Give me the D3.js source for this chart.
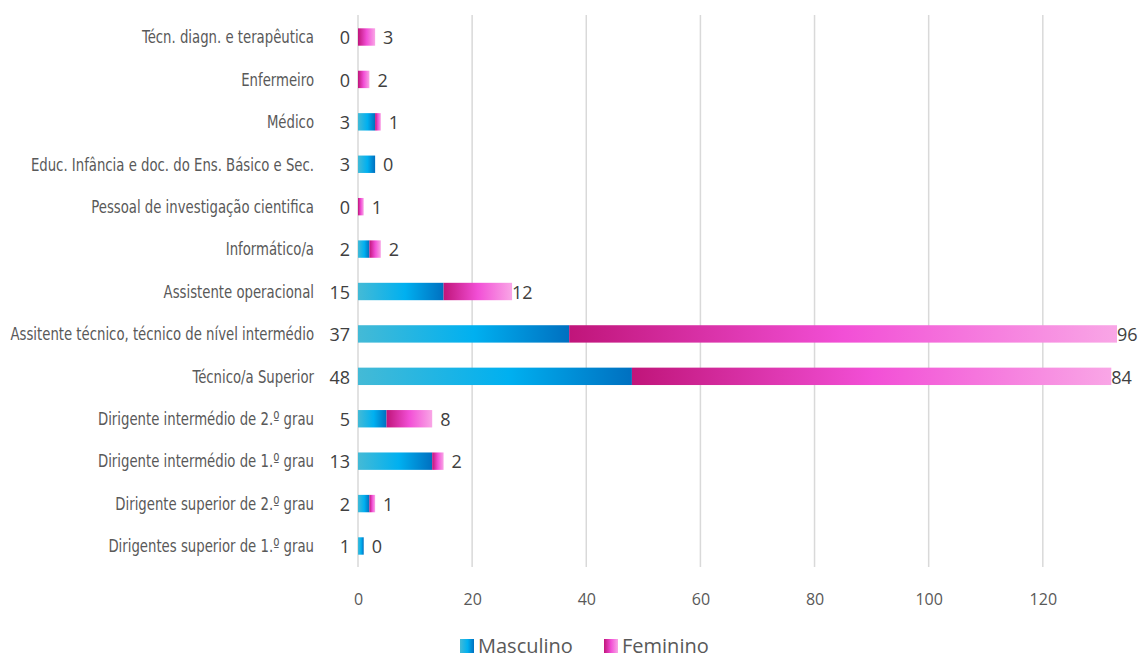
<!DOCTYPE html>
<html>
<head>
<meta charset="utf-8">
<script src="https://cdn.jsdelivr.net/npm/d3@7"></script>
<style>
  body { margin: 0; background: #fff; }
  .cat { font-family: "DejaVu Sans Condensed", "Roboto", sans-serif; font-stretch: condensed; font-size: 18px; fill: #595959; }
  .val { font-family: "Open Sans", sans-serif; font-size: 18px; fill: #404040; }
  .tick text { font-family: "Open Sans", sans-serif; font-size: 16px; fill: #595959; }
  .legend text { font-family: "Open Sans", sans-serif; font-size: 20px; fill: #595959; }
</style>
</head>
<body>
<div id="chart"></div>
<script>
// categories, top to bottom
const categories = [
  "Técn. diagn. e terapêutica",
  "Enfermeiro",
  "Médico",
  "Educ. Infância e doc. do Ens. Básico e Sec.",
  "Pessoal de investigação cientifica",
  "Informático/a",
  "Assistente operacional",
  "Assitente técnico, técnico de nível intermédio",
  "Técnico/a Superior",
  "Dirigente intermédio de 2.º grau",
  "Dirigente intermédio de 1.º grau",
  "Dirigente superior de 2.º grau",
  "Dirigentes superior de 1.º grau"
];
const masculino = [0, 0, 3, 3, 0, 2, 15, 37, 48, 5, 13, 2, 1];
const feminino  = [3, 2, 1, 0, 1, 2, 12, 96, 84, 8, 2, 1, 0];
const xTicks = [0, 20, 40, 60, 80, 100, 120];

const width = 1142, height = 660;
const svg = d3.select("#chart").append("svg")
    .attr("width", width).attr("height", height);

const x = d3.scaleLinear().domain([0, 133]).range([358, 1117]);
const y = d3.scaleBand().domain(categories).range([15.8, 567.2]).paddingInner(0.59).paddingOuter(0.295);

// gradients
const defs = svg.append("defs");
function grad(id, stops) {
  defs.append("linearGradient").attr("id", id)
    .selectAll("stop").data(stops).enter().append("stop")
    .attr("offset", d => d[0]).attr("stop-color", d => d[1]);
}
grad("gMasc", [["0%", "#44bad6"], ["55%", "#00b0f0"], ["100%", "#0070c0"]]);
grad("gFem", [["0%", "#c0157a"], ["50%", "#f24fd6"], ["100%", "#f9a6e6"]]);

// gridlines
svg.append("g").selectAll("line").data(xTicks).enter().append("line")
  .attr("x1", d => x(d)).attr("x2", d => x(d))
  .attr("y1", 15).attr("y2", 567)
  .attr("stroke", "#d9d9d9").attr("stroke-width", 1.5);

// axis ticks
const xAxis = svg.append("g").attr("transform", "translate(0,600)")
  .call(d3.axisBottom(x).tickValues(xTicks).tickSize(0).tickPadding(0));
xAxis.select(".domain").remove();
xAxis.selectAll("text").attr("dy", "0.32em");

// category labels, squeezed horizontally like the narrow source font
const sx = 0.82;
svg.append("g").attr("transform", `translate(314,0) scale(${sx},1)`)
  .selectAll("text").data(categories).enter().append("text")
  .attr("class", "cat")
  .attr("x", 0).attr("y", d => y(d) + y.bandwidth() / 2)
  .attr("dy", "0.35em").attr("text-anchor", "end")
  .text(d => d);

// bars
const rows = categories.map((c, i) => ({c, m: masculino[i], f: feminino[i]}));
svg.append("g").selectAll("rect").data(rows.filter(d => d.m > 0)).enter().append("rect")
  .attr("x", x(0)).attr("y", d => y(d.c))
  .attr("width", d => x(d.m) - x(0)).attr("height", y.bandwidth())
  .attr("fill", "url(#gMasc)");
svg.append("g").selectAll("rect").data(rows.filter(d => d.f > 0)).enter().append("rect")
  .attr("x", d => x(d.m)).attr("y", d => y(d.c))
  .attr("width", d => x(d.m + d.f) - x(d.m)).attr("height", y.bandwidth())
  .attr("fill", "url(#gFem)");

// value labels
svg.append("g").selectAll("text").data(rows).enter().append("text")
  .attr("class", "val")
  .attr("x", x(0) - 8).attr("y", d => y(d.c) + y.bandwidth() / 2)
  .attr("dy", "0.4em").attr("text-anchor", "end")
  .text(d => d.m);
svg.append("g").selectAll("text").data(rows).enter().append("text")
  .attr("class", "val")
  .attr("x", d => x(d.m + d.f) + (d.m + d.f > 20 ? 0 : 8))
  .attr("y", d => y(d.c) + y.bandwidth() / 2)
  .attr("dy", "0.4em").attr("text-anchor", "start")
  .text(d => d.f);

// legend
const legend = svg.append("g").attr("class", "legend");
const items = [{name: "Masculino", fill: "url(#gMasc)", x: 460}, {name: "Feminino", fill: "url(#gFem)", x: 604}];
const li = legend.selectAll("g").data(items).enter().append("g")
  .attr("transform", d => `translate(${d.x},639)`);
li.append("rect").attr("width", 14).attr("height", 14).attr("fill", d => d.fill);
li.append("text").attr("x", 18).attr("y", 7).attr("dy", "0.35em").text(d => d.name);
</script>
</body>
</html>
